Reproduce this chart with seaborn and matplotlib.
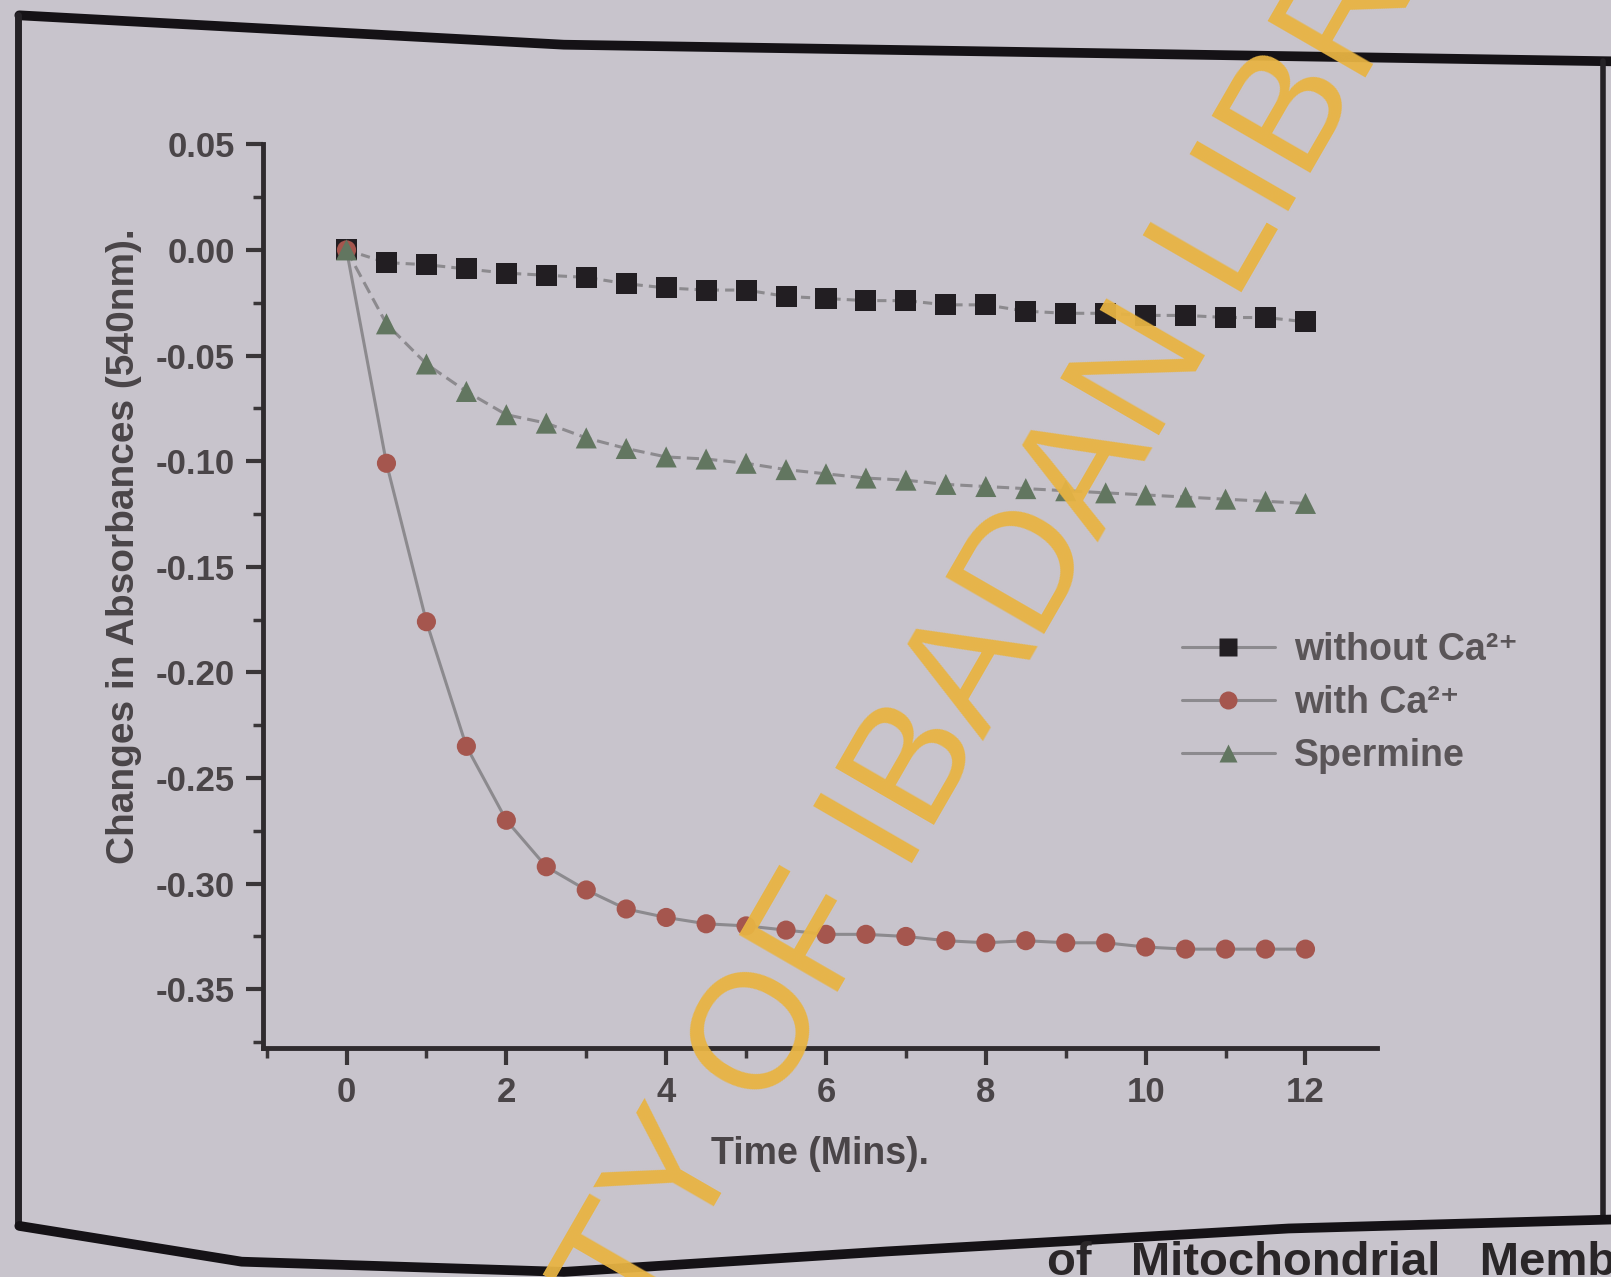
import numpy as np
import pandas as pd
import matplotlib
matplotlib.use("Agg")
import matplotlib.pyplot as plt
import seaborn as sns
from matplotlib.lines import Line2D

# ---- data ----
time_min = [0, 0.5, 1, 1.5, 2, 2.5, 3, 3.5, 4, 4.5, 5, 5.5, 6, 6.5, 7, 7.5,
            8, 8.5, 9, 9.5, 10, 10.5, 11, 11.5, 12]
without_ca = [0.000, -0.006, -0.007, -0.009, -0.011, -0.012, -0.013, -0.016,
              -0.018, -0.019, -0.019, -0.022, -0.023, -0.024, -0.024, -0.026,
              -0.026, -0.029, -0.030, -0.030, -0.031, -0.031, -0.032, -0.032,
              -0.034]
with_ca = [0.000, -0.101, -0.176, -0.235, -0.270, -0.292, -0.303, -0.312,
           -0.316, -0.319, -0.320, -0.322, -0.324, -0.324, -0.325, -0.327,
           -0.328, -0.327, -0.328, -0.328, -0.330, -0.331, -0.331, -0.331,
           -0.331]
spermine = [0.000, -0.035, -0.054, -0.067, -0.078, -0.082, -0.089, -0.094,
            -0.098, -0.099, -0.101, -0.104, -0.106, -0.108, -0.109, -0.111,
            -0.112, -0.113, -0.114, -0.115, -0.116, -0.117, -0.118, -0.119,
            -0.120]
series_names = ["without Ca²⁺", "with Ca²⁺", "Spermine"]
x_ticks = [0, 2, 4, 6, 8, 10, 12]
y_ticks = [0.05, 0.00, -0.05, -0.10, -0.15, -0.20, -0.25, -0.30, -0.35]

df = pd.concat([
    pd.DataFrame({"Time": time_min, "Abs": without_ca, "Series": series_names[0]}),
    pd.DataFrame({"Time": time_min, "Abs": with_ca, "Series": series_names[1]}),
    pd.DataFrame({"Time": time_min, "Abs": spermine, "Series": series_names[2]}),
])

marker_colors = {series_names[0]: "#221e22", series_names[1]: "#a5564e",
                 series_names[2]: "#627660"}
markers = {series_names[0]: "s", series_names[1]: "o", series_names[2]: "^"}
line_styles = {series_names[0]: (0, (3, 2)), series_names[1]: "-",
               series_names[2]: (0, (4, 2))}

sns.set_theme(style="ticks")
plt.rcParams["font.family"] = ["Liberation Sans", "DejaVu Sans"]
plt.rcParams["font.weight"] = "bold"

bg = "#c8c4cc"
fig = plt.figure(figsize=(16.11, 12.77), dpi=100, facecolor=bg)
ax = fig.add_axes([0.163, 0.179, 0.692, 0.708])
ax.set_facecolor(bg)

for name in series_names:
    sub = df[df["Series"] == name]
    sns.lineplot(data=sub, x="Time", y="Abs", ax=ax, color="#8c8a8e",
                 linewidth=2.2, linestyle=line_styles[name], legend=False,
                 zorder=2)
    sns.scatterplot(data=sub, x="Time", y="Abs", ax=ax,
                    color=marker_colors[name], marker=markers[name],
                    s=230 if name != series_names[1] else 190,
                    edgecolor="none", legend=False, zorder=3)

ax.set_xlim(-1.05, 12.9)
ax.set_ylim(-0.378, 0.05)
ax.set_xticks(x_ticks)
ax.set_xticks(np.arange(-1, 13, 1), minor=True)
ax.set_yticks(y_ticks)
ax.set_yticks(np.arange(-0.375, 0.05, 0.025), minor=True)
ax.set_yticklabels([f"{v:.2f}" for v in y_ticks])
ax.tick_params(axis="both", which="major", direction="out", length=12,
               width=3, colors="#3a3638", labelsize=25, pad=8)
ax.tick_params(axis="both", which="minor", direction="out", length=7,
               width=2.5, colors="#3a3638")
for lab in ax.get_xticklabels() + ax.get_yticklabels():
    lab.set_fontweight("bold")
    lab.set_color("#4a4548")

sns.despine(ax=ax)
for sp in ["left", "bottom"]:
    ax.spines[sp].set_linewidth(3.5)
    ax.spines[sp].set_color("#2f2b2e")

ax.set_xlabel("Time (Mins).", fontsize=27, fontweight="bold",
              color="#4a4548", labelpad=19)
ax.set_ylabel("Changes in Absorbances (540nm).", fontsize=28,
              fontweight="bold", color="#4a4548")
ax.yaxis.set_label_coords(-0.108, 0.555)

handles = [Line2D([0], [0], color="#8c8a8e", lw=2.2,
                  marker=markers[n], markerfacecolor=marker_colors[n],
                  markeredgecolor="none", markersize=13)
           for n in series_names]
leg = ax.legend(handles, series_names, loc="upper left",
                bbox_to_anchor=(0.794, 0.498), frameon=False,
                fontsize=27, handlelength=2.5, labelspacing=0.45,
                handletextpad=0.5)
for t in leg.get_texts():
    t.set_color("#5a5558")
    t.set_fontweight("bold")

# photo frame of the printed page
fig.add_artist(Line2D([0.012, 0.35, 0.7, 1.0], [0.988, 0.965, 0.958, 0.952],
                      transform=fig.transFigure, color="#151216", lw=7))
fig.add_artist(Line2D([0.011, 0.011], [0.988, 0.04],
                      transform=fig.transFigure, color="#252226", lw=5))
fig.add_artist(Line2D([0.995, 0.995], [0.952, 0.048],
                      transform=fig.transFigure, color="#252226", lw=4))
fig.add_artist(Line2D([0.012, 0.15, 0.35, 0.55, 0.8, 1.0],
                      [0.04, 0.012, 0.004, 0.02, 0.038, 0.045],
                      transform=fig.transFigure, color="#151216", lw=7))
fig.text(0.65, -0.006, "of   Mitochondrial   Membr", fontsize=34,
         fontweight="bold", color="#2a2628", va="bottom")

# watermark
fig.text(0.5475, 0.35, "UNIVERSITY OF IBADAN LIBRARY", fontsize=119,
         color="#e8b443", fontweight="normal", rotation=60,
         rotation_mode="anchor", ha="center", va="center", alpha=0.95,
         zorder=10)

fig.savefig("out.png", dpi=100, facecolor=bg)
